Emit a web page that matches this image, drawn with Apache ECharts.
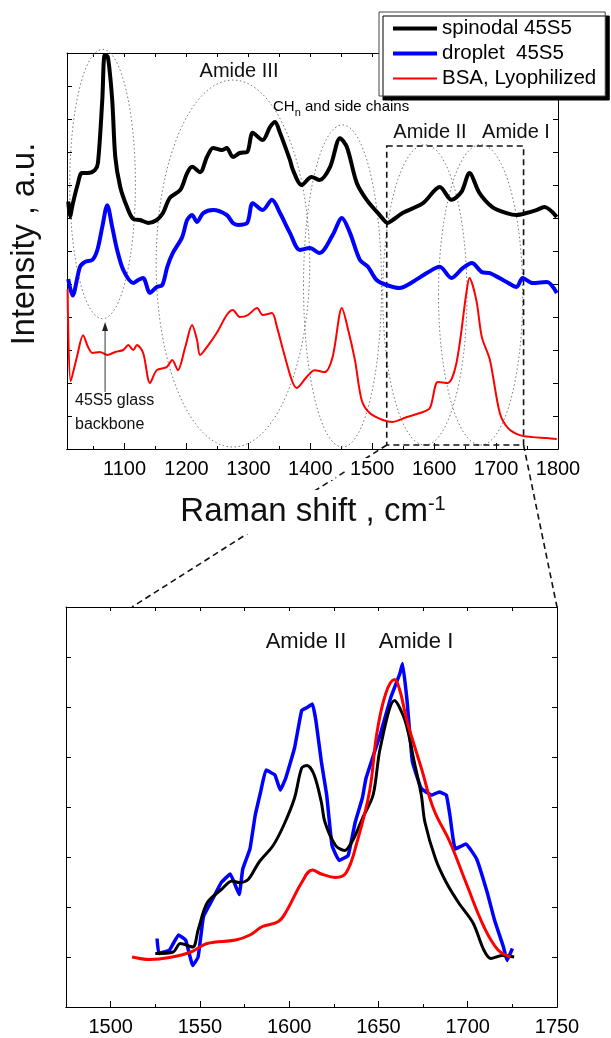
<!DOCTYPE html>
<html lang="en">
<head>
<meta charset="utf-8">
<title>Raman spectra</title>
<script src="https://cdn.jsdelivr.net/npm/echarts@6/dist/echarts.min.js"></script>
<style>
  html, body { margin: 0; padding: 0; background: #fff; }
  #chart { width: 611px; height: 1038px; }
</style>
</head>
<body>
<div id="chart"></div>
<script>
  var FONT = '"Liberation Sans", Arial, sans-serif';
  var seriesNames = ['spinodal 45S5', 'droplet  45S5', 'BSA, Lyophilized'];

  // full range spectra [Raman shift, intensity]
  var spinodalTop = [[1009,7.5],[1012,7.05],[1016,7.4],[1024,8.0],[1031,8.36],[1040,8.36],[1052,8.45],[1057,8.67],[1064,10.58],[1068,11.94],[1073,11.88],[1080,10.58],[1085,8.85],[1093,7.94],[1104,7.33],[1114,6.97],[1125,6.94],[1138,6.85],[1152,6.94],[1162,7.15],[1173,7.61],[1190,7.85],[1201,8.36],[1209,8.55],[1222,8.39],[1233,8.85],[1243,9.12],[1257,9.06],[1265,9.12],[1275,8.85],[1286,8.97],[1298,9.0],[1307,9.58],[1323,9.36],[1335,9.76],[1343,9.91],[1351,9.58],[1367,8.76],[1372,8.45],[1386,8.0],[1402,8.24],[1415,8.15],[1432,8.55],[1448,9.42],[1459,9.15],[1475,8.06],[1491,7.55],[1512,7.09],[1525,6.85],[1533,6.94],[1549,7.15],[1582,7.45],[1609,7.94],[1628,7.55],[1644,7.79],[1657,8.36],[1673,7.76],[1694,7.33],[1717,7.15],[1733,7.09],[1749,7.15],[1765,7.24],[1778,7.33],[1798,7.03]];
  var dropletTop = [[1009,5.15],[1016,4.65],[1028,5.52],[1036,5.67],[1048,5.73],[1056,6.03],[1064,6.73],[1072,7.39],[1080,6.73],[1088,6.03],[1098,5.42],[1114,5.03],[1122,5.12],[1130,5.18],[1141,4.73],[1152,4.91],[1161,4.97],[1169,5.52],[1178,5.94],[1193,6.42],[1201,6.94],[1209,7.09],[1217,6.88],[1227,7.15],[1243,7.24],[1265,7.09],[1275,6.85],[1283,6.79],[1298,6.85],[1307,7.45],[1323,7.24],[1338,7.55],[1351,7.15],[1367,6.55],[1383,6.03],[1399,6.09],[1415,5.94],[1436,6.48],[1451,7.0],[1464,6.55],[1480,5.73],[1493,5.52],[1507,5.12],[1523,4.97],[1544,4.88],[1565,5.06],[1588,5.33],[1609,5.52],[1628,5.18],[1646,5.48],[1661,5.64],[1677,5.36],[1690,5.33],[1717,5.06],[1733,4.91],[1743,5.18],[1759,5.03],[1782,5.06],[1798,4.73]];
  var bsaTop = [[1008,4.85],[1013,2.05],[1023,2.79],[1033,3.45],[1041,3.09],[1048,2.91],[1060,2.94],[1072,2.85],[1085,2.94],[1098,3.0],[1106,3.15],[1114,3.0],[1120,3.15],[1130,2.91],[1141,2.0],[1152,2.39],[1168,2.48],[1177,2.7],[1186,2.39],[1198,3.09],[1209,3.76],[1217,3.3],[1222,2.85],[1233,3.09],[1249,3.52],[1265,4.06],[1275,4.21],[1286,4.0],[1299,4.06],[1314,4.27],[1323,4.06],[1338,4.12],[1346,3.7],[1356,3.0],[1370,2.09],[1378,1.85],[1394,2.18],[1407,2.39],[1423,2.33],[1436,2.79],[1451,4.27],[1460,3.7],[1472,2.7],[1483,1.48],[1496,1.09],[1517,0.88],[1533,0.82],[1556,0.97],[1577,1.09],[1593,1.24],[1606,2.03],[1622,2.0],[1636,2.61],[1652,4.73],[1657,5.18],[1668,4.52],[1677,3.39],[1690,2.7],[1706,1.09],[1719,0.64],[1738,0.42],[1759,0.36],[1782,0.33],[1798,0.3]];

  // amide I / II close-up
  var spinodalZoom = [[1525,1.07],[1535,1.1],[1539,1.27],[1546,1.2],[1549,1.54],[1554,2.08],[1562,2.35],[1568,2.52],[1572,2.49],[1577,2.55],[1583,2.89],[1591,3.23],[1597,3.64],[1603,4.18],[1607,4.78],[1610,4.83],[1614,4.64],[1618,4.1],[1620,3.7],[1626,3.23],[1631,3.13],[1636,3.36],[1641,3.77],[1647,4.24],[1651,5.18],[1659,6.13],[1665,5.72],[1670,4.91],[1674,4.24],[1676,3.7],[1682,2.96],[1688,2.49],[1695,2.08],[1703,1.68],[1709,1.14],[1713,0.97],[1719,1.03],[1726,1.0]];
  var dropletZoom = [[1526,1.37],[1527,1.07],[1533,1.14],[1538,1.44],[1542,1.34],[1546,0.83],[1549,1.0],[1552,1.81],[1557,2.15],[1562,2.49],[1567,2.66],[1572,2.25],[1574,2.76],[1578,3.16],[1581,3.84],[1584,4.3],[1587,4.74],[1592,4.64],[1595,4.34],[1598,4.57],[1603,5.18],[1607,5.93],[1610,5.99],[1613,6.06],[1615,5.72],[1618,4.91],[1621,4.24],[1624,3.23],[1628,2.93],[1633,3.03],[1637,3.7],[1641,4.18],[1643,4.57],[1651,5.45],[1657,6.2],[1662,6.67],[1663.5,6.87],[1666,6.13],[1669,4.91],[1674,4.37],[1680,4.24],[1684,4.3],[1688,4.24],[1690,3.84],[1693,3.16],[1699,3.26],[1705,2.96],[1711,2.28],[1715,1.74],[1720,1.2],[1722,0.93],[1725,1.17]];
  var bsaZoom = [[1512,1.0],[1522,0.95],[1533,0.99],[1545,1.1],[1554,1.27],[1570,1.34],[1578,1.44],[1585,1.61],[1594,1.71],[1599,1.95],[1607,2.49],[1613,2.74],[1618,2.66],[1626,2.59],[1632,2.69],[1638,3.3],[1645,4.31],[1649,5.45],[1654,6.26],[1659,6.55],[1662,6.33],[1666,5.72],[1674,4.78],[1681,3.95],[1690,3.3],[1699,2.49],[1709,1.61],[1717,1.14],[1724,1.0]];

  var topMajor = [1100, 1200, 1300, 1400, 1500, 1600, 1700, 1800];
  var topMinor = [1050, 1150, 1250, 1350, 1450, 1550, 1650, 1750];
  var zoomMajor = [1500, 1550, 1600, 1650, 1700, 1750];
  var zoomMinor = [1475, 1525, 1575, 1625, 1675, 1725];

  // band regions: [centre shift, centre intensity, half width, half height]
  var bandEllipses = [[1064.5,8.03,53,4.08],[1275,5.62,124,5.56],[1452,4.94,63,4.88],[1585,4.67,68,4.55],[1675,4.67,68,4.55]];
  // dashed zoom box: [x0, y0, x1, y1]
  var zoomBox = [[1523.4, 0.12, 1744.4, 9.18]];
  var arrowFromTo = [[1068.5, 1.73], [1068.5, 3.85]];

  var chart = echarts.init(document.getElementById('chart'));

  function xAx(grid, pos, min, max, ticks, len, labels) {
    return {
      type: 'value', gridIndex: grid, position: pos, min: min, max: max,
      axisLine: {show: true, lineStyle: {color: '#000', width: 1}},
      axisTick: {show: true, inside: true, length: len, customValues: ticks, lineStyle: {color: '#000'}},
      axisLabel: labels ? {
        show: true, customValues: labels, fontSize: 20, color: '#000', fontFamily: FONT,
        margin: 9, backgroundColor: '#fff', padding: [1, 3],
        formatter: function (v) { return String(v); }
      } : {show: false},
      splitLine: {show: false}
    };
  }

  function yAx(grid, pos, max) {
    return {
      type: 'value', gridIndex: grid, position: pos, min: 0, max: max, interval: 1,
      axisLine: {show: true, lineStyle: {color: '#000', width: 1}},
      axisTick: {show: true, inside: true, length: 5, lineStyle: {color: '#000'}},
      axisLabel: {show: false},
      splitLine: {show: false}
    };
  }

  function spectrum(name, data, color, width, xi, yi, z, smooth) {
    return {
      type: 'line', name: name, data: data, xAxisIndex: xi, yAxisIndex: yi,
      symbol: 'none', smooth: smooth, z: z,
      lineStyle: {color: color, width: width},
      itemStyle: {color: color},
      emphasis: {disabled: true}
    };
  }

  var option = {
    animation: false,
    backgroundColor: '#fff',
    grid: [
      {left: 67, top: 53, width: 491, height: 396},
      {left: 66, top: 607, width: 491, height: 402}
    ],
    xAxis: [
      xAx(0, 'bottom', 1007, 1800, topMajor, 6, topMajor),
      xAx(0, 'bottom', 1007, 1800, topMinor, 3, null),
      xAx(0, 'top', 1007, 1800, topMajor.concat(topMinor), 4, null),
      xAx(1, 'bottom', 1475, 1750, zoomMajor, 6, zoomMajor),
      xAx(1, 'bottom', 1475, 1750, zoomMinor, 3, null),
      xAx(1, 'top', 1475, 1750, zoomMajor.concat(zoomMinor), 4, null)
    ],
    yAxis: [
      yAx(0, 'left', 12), yAx(0, 'right', 12),
      yAx(1, 'left', 8), yAx(1, 'right', 8)
    ],
    legend: {
      orient: 'vertical', left: 379, top: 12,
      padding: [6, 9, 7, 12], itemGap: 4, itemWidth: 44, itemHeight: 14,
      backgroundColor: '#fff', borderColor: '#444', borderWidth: 1,
      shadowColor: '#000', shadowBlur: 0, shadowOffsetX: 4, shadowOffsetY: 4,
      selectedMode: false,
      itemStyle: {opacity: 0},
      textStyle: {fontSize: 20.5, color: '#000', fontFamily: FONT},
      data: [
        {name: seriesNames[0], lineStyle: {width: 4}},
        {name: seriesNames[1], lineStyle: {width: 4}},
        {name: seriesNames[2], lineStyle: {width: 2}}
      ]
    },
    series: [
      {
        type: 'custom', xAxisIndex: 0, yAxisIndex: 0, data: bandEllipses, clip: false, silent: true, z: 1,
        renderItem: function (params, api) {
          var c = api.coord([api.value(0), api.value(1)]);
          var s = api.size([api.value(2), api.value(3)]);
          return {
            type: 'ellipse', shape: {cx: c[0], cy: c[1], rx: s[0], ry: s[1]},
            style: {fill: 'none', stroke: '#777', lineWidth: 1, lineDash: [1.5, 2.5]}
          };
        }
      },
      {
        type: 'custom', xAxisIndex: 0, yAxisIndex: 0, data: zoomBox, clip: false, silent: true, z: 1,
        renderItem: function (params, api) {
          var a = api.coord([api.value(0), api.value(3)]);
          var b = api.coord([api.value(2), api.value(1)]);
          return {
            type: 'rect', shape: {x: a[0], y: a[1], width: b[0] - a[0], height: b[1] - a[1]},
            style: {fill: 'none', stroke: '#111', lineWidth: 1.6, lineDash: [6, 4]}
          };
        }
      },
      spectrum(seriesNames[0], spinodalTop, '#000000', 4, 0, 0, 3, 0.3),
      spectrum(seriesNames[1], dropletTop, '#0000ff', 4, 0, 0, 3, 0.3),
      spectrum(seriesNames[2], bsaTop, '#ff0000', 2, 0, 0, 4, 0.3),
      spectrum(seriesNames[1], dropletZoom, '#0000ff', 3.5, 3, 2, 3, 0.1),
      spectrum(seriesNames[0], spinodalZoom, '#000000', 3, 3, 2, 4, 0.3),
      spectrum(seriesNames[2], bsaZoom, '#ff0000', 3, 3, 2, 5, 0.4)
    ]
  };
  chart.setOption(option);

  // annotations positioned from data through the axes
  function px(xi, yi, pt) {
    return chart.convertToPixel({xAxisIndex: xi, yAxisIndex: yi}, pt);
  }
  var boxBL = px(0, 0, [zoomBox[0][0], zoomBox[0][1]]);
  var boxBR = px(0, 0, [zoomBox[0][2], zoomBox[0][1]]);
  var zoomTL = px(3, 2, [1512, 8]);
  var zoomTR = px(3, 2, [1750, 8]);
  var arrA = px(0, 0, arrowFromTo[0]);
  var arrB = px(0, 0, arrowFromTo[1]);

  function label(text, x, y, size, align) {
    return {
      type: 'text', x: x, y: y, z: 20,
      style: {text: text, fontSize: size, fontFamily: FONT, fill: '#111', align: align || 'center', verticalAlign: 'middle'}
    };
  }

  chart.setOption({
    graphic: [
      {type: 'line', z: -5, shape: {x1: boxBL[0], y1: boxBL[1], x2: zoomTL[0], y2: zoomTL[1]},
        style: {stroke: '#111', lineWidth: 1.6, lineDash: [6, 4]}},
      {type: 'line', z: -5, shape: {x1: boxBR[0], y1: boxBR[1], x2: zoomTR[0], y2: zoomTR[1]},
        style: {stroke: '#111', lineWidth: 1.6, lineDash: [6, 4]}},
      {type: 'line', z: 20, shape: {x1: arrA[0], y1: arrA[1], x2: arrB[0], y2: arrB[1] + 7},
        style: {stroke: '#333', lineWidth: 1}},
      {type: 'polygon', z: 20, shape: {points: [[arrB[0], arrB[1]], [arrB[0] - 3, arrB[1] + 9], [arrB[0] + 3, arrB[1] + 9]]},
        style: {fill: '#222'}},
      {
        type: 'text', x: 25, y: 244, rotation: Math.PI / 2, z: 20,
        style: {text: 'Intensity , a.u.', fontSize: 32.5, fontFamily: FONT, fill: '#111', align: 'center', verticalAlign: 'middle'}
      },
      {
        type: 'text', x: 313, y: 512, z: 20,
        style: {
          text: '{m|Raman shift , cm}{s|-1}', align: 'center', verticalAlign: 'middle',
          backgroundColor: '#fff', padding: [4, 6],
          rich: {
            m: {fontSize: 33, fontFamily: FONT, fill: '#111', color: '#111'},
            s: {fontSize: 20, fontFamily: FONT, fill: '#111', color: '#111', verticalAlign: 'top', lineHeight: 36}
          }
        }
      },
      label('Amide III', 239, 71, 20),
      {
        type: 'text', x: 273, y: 107, z: 20,
        style: {
          text: '{a|CH}{b|n}{a| and side chains}', align: 'left', verticalAlign: 'middle',
          rich: {
            a: {fontSize: 15, fontFamily: FONT, color: '#111'},
            b: {fontSize: 11, fontFamily: FONT, color: '#111', verticalAlign: 'bottom', lineHeight: 23}
          }
        }
      },
      label('Amide II', 430, 132, 20),
      label('Amide I', 516, 132, 20),
      label('45S5 glass', 75, 401, 16, 'left'),
      label('backbone', 75, 425, 16, 'left'),
      label('Amide II', 306, 642, 22),
      label('Amide I', 416, 642, 22)
    ]
  });
</script>
</body>
</html>
